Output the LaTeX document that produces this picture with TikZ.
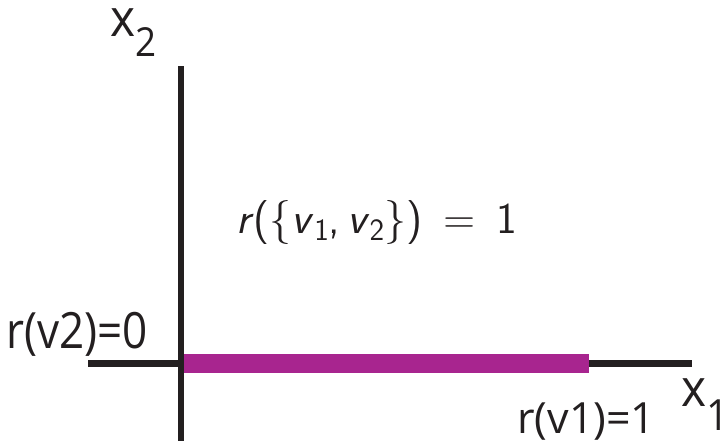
\documentclass[tikz,border=0pt]{standalone}
\usepackage{fontspec}
\setmainfont{Open Sans}
\usetikzlibrary{positioning}
\definecolor{barcol}{HTML}{A8258F}
\definecolor{axcol}{HTML}{231F20}

\begin{document}
\begin{tikzpicture}[x=1pt, y=-1pt,
    axis/.style={draw=axcol, line width=6.5pt},
    lbl/.style={inner sep=0pt, anchor=base west, text=axcol}]
    \useasboundingbox (0,0) rectangle (725,441);
    % axes
    \coordinate (xl) at (88,363.5);
    \coordinate (xr) at (692,363.5);
    \coordinate (yt) at (181,66);
    \coordinate (yb) at (181,441);
    \draw[axis] (yb) -- (yt);
    \draw[axis] (xl) -- (xr);
    % the segment
    \coordinate (b0) at (184.3,363.5);
    \coordinate (b1) at (589,363.5);
    \draw[barcol, line width=19pt] (b0) -- (b1);
    % labels
    \node[lbl, font=\fontsize{52}{52}\selectfont, xscale=0.92] (xtwo) at (110,37)
        {x\raisebox{-20pt}{\fontsize{40}{40}\selectfont 2}};
    \node[lbl, font=\fontsize{52}{52}\selectfont, xscale=0.92] (xone) at (681,406)
        {x\raisebox{-24pt}{\fontsize{43}{43}\selectfont 1}};
    \node[lbl, font=\fontsize{50}{50}\selectfont, xscale=0.88] (rvtwo) at (6,348) {r(v2)=0};
    \node[lbl, font=\fontsize{43}{43}\selectfont] (rvone) at (517,433) {r(v1)=1};
    \node[lbl, font=\sffamily\fontsize{44}{44}\selectfont] (rank) at (236,233)
        {\textit{r}(\{\textit{v}\raisebox{-7pt}{\fontsize{31}{31}\selectfont 1},\hspace{7pt}%
        \textit{v}\raisebox{-7pt}{\fontsize{31}{31}\selectfont 2}\})\hspace{21pt}=\hspace{21pt}1};
\end{tikzpicture}
\end{document}
